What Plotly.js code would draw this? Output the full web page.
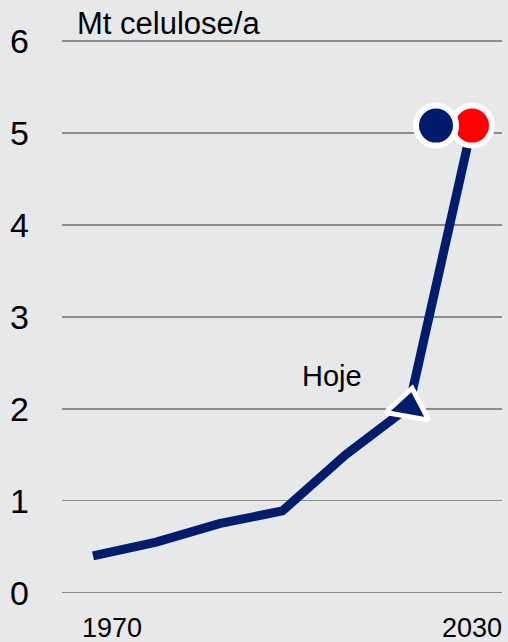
<!DOCTYPE html>
<html>
<head>
<meta charset="utf-8">
<script src="https://cdn.plot.ly/plotly-3.0.1.min.js"></script>
<style>html,body{margin:0;padding:0;background:#e7e8ea;}#chart{width:508px;height:642px;}</style>
</head>
<body>
<div id="chart"></div>
<script>
// Data
const years = [1970, 1980, 1990, 2000, 2010, 2020, 2030];
const cellulose = [0.40, 0.55, 0.75, 0.89, 1.50, 2.02, 5.08];
const todayYear = [2020];
const todayValue = [2.02];
const scenarioRedYear = [2030];
const scenarioRedValue = [5.08];
const scenarioBlueYear = [2024.3];
const scenarioBlueValue = [5.08];
const yTickVals = [0, 1, 2, 3, 4, 5, 6];
const yTickText = ['0', '1', '2', '3', '4', '5', '6'];
const xTickVals = [1970, 2030];
const xTickText = ['1970', '2030'];
const unitLabel = 'Mt celulose/a';
const todayLabel = 'Hoje';

const navy = '#001c6b';
const font = 'Liberation Sans, Arial, sans-serif';

const traces = [
  {x: years, y: cellulose, type: 'scatter', mode: 'lines',
   line: {color: navy, width: 9}, hoverinfo: 'skip'},
  {x: todayYear, y: todayValue, type: 'scatter', mode: 'markers',
   marker: {symbol: 'triangle-up', size: 38, color: navy, angle: 10,
            line: {color: '#ffffff', width: 5}}},
  {x: scenarioRedYear, y: scenarioRedValue, type: 'scatter', mode: 'markers',
   marker: {symbol: 'circle', size: 40, color: '#ff0000', line: {color: '#ffffff', width: 6}}},
  {x: scenarioBlueYear, y: scenarioBlueValue, type: 'scatter', mode: 'markers',
   marker: {symbol: 'circle', size: 40, color: navy, line: {color: '#ffffff', width: 6}}}
];

const xShifts = [19, 0];
const annotations = xTickVals.map((v, i) => ({
  x: v, xref: 'x', y: -0.049, yref: 'paper', text: xTickText[i],
  showarrow: false, xanchor: 'center', yanchor: 'middle', xshift: xShifts[i],
  font: {family: font, size: 27, color: '#000'}
}));
annotations.push({
  x: 0.03, xref: 'paper', y: 1.012, yref: 'paper', text: unitLabel,
  showarrow: false, xanchor: 'left', yanchor: 'middle',
  font: {family: font, size: 31, color: '#000'}
});
annotations.push({
  x: 2007.9, xref: 'x', y: 2.36, yref: 'y', text: todayLabel,
  showarrow: false, xanchor: 'center', yanchor: 'middle',
  font: {family: font, size: 29, color: '#000'}
});

const layout = {
  width: 508, height: 642,
  paper_bgcolor: '#e7e8ea', plot_bgcolor: '#e7e8ea',
  margin: {l: 62, r: 6, t: 30, b: 42, pad: 0},
  showlegend: false,
  xaxis: {range: [1965.09, 2034.75], showgrid: false, zeroline: false, showline: false,
          showticklabels: false, ticks: '', fixedrange: true},
  yaxis: {range: [-0.08, 6.12], tickvals: yTickVals, ticktext: yTickText,
          showgrid: true, gridcolor: '#8c8c8c', gridwidth: 1.5, zeroline: false,
          showline: false, ticks: '', ticklabelstandoff: 32,
          tickfont: {family: font, size: 34, color: '#000'}, fixedrange: true},
  annotations: annotations,
  font: {family: font}
};

Plotly.newPlot('chart', traces, layout, {displayModeBar: false, staticPlot: true});
</script>
</body>
</html>
